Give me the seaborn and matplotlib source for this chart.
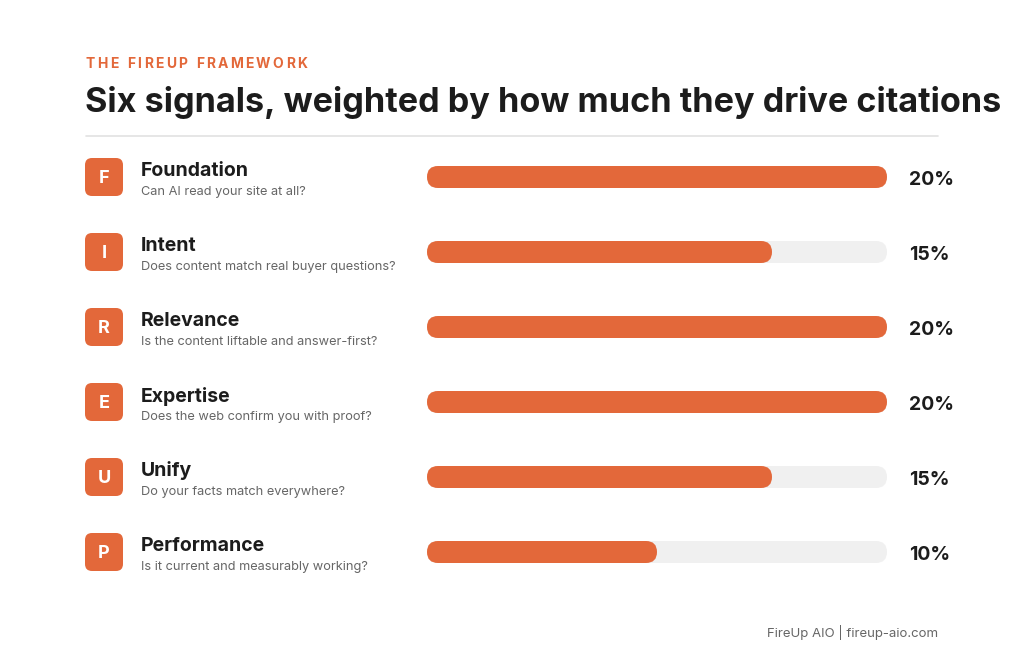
import matplotlib
matplotlib.use("Agg")
import matplotlib.pyplot as plt
from matplotlib.patches import FancyBboxPatch
from matplotlib.lines import Line2D
import seaborn as sns
import pandas as pd

# ---- data ----
categories = ["Foundation", "Intent", "Relevance", "Expertise", "Unify", "Performance"]
descriptions = [
    "Can AI read your site at all?",
    "Does content match real buyer questions?",
    "Is the content liftable and answer-first?",
    "Does the web confirm you with proof?",
    "Do your facts match everywhere?",
    "Is it current and measurably working?",
]
weights = [20, 15, 20, 20, 15, 10]
scale_max = 20
eyebrow = "THE FIREUP FRAMEWORK"
title = "Six signals, weighted by how much they drive citations"
footer = "FireUp AIO | fireup-aio.com"

ORANGE = "#E3683A"
TRACK = "#F0F0F0"
DARK = "#1C1C1C"
GREY = "#666666"
FONT = "Inter"

sns.set_theme(style="white")
plt.rcParams["font.family"] = [FONT, "DejaVu Sans"]

W, H = 1024, 666
fig = plt.figure(figsize=(W / 100, H / 100), dpi=100)
fig.patch.set_facecolor("white")

def fx(px):
    return px / W

def fy(py):
    return 1 - py / H

# ---- bars axis ----
row_h = 75.0
first_row_center = 177.0
n = len(categories)
ax_top = first_row_center - row_h / 2
ax_h = row_h * n
ax_left, ax_w = 427.0, 460.0
ax = fig.add_axes([fx(ax_left), fy(ax_top + ax_h), ax_w / W, ax_h / H])

df = pd.DataFrame({"signal": categories, "weight": weights, "track": [scale_max] * n})
bar_w = 22 / row_h
sns.barplot(data=df, x="track", y="signal", color=TRACK, width=bar_w, ax=ax,
            orient="h", saturation=1)
sns.barplot(data=df, x="weight", y="signal", color=ORANGE, width=bar_w, ax=ax,
            orient="h", saturation=1)
ax.set_xlim(0, scale_max)
ax.set_ylim(n - 0.5, -0.5)
ax.axis("off")

# round bar ends
xpp = scale_max / ax_w
ypp = 1 / row_h
aspect = ypp / xpp
r = 11 * xpp
for p in list(ax.patches):
    x0, y0 = p.get_x(), p.get_y()
    w, h = p.get_width(), p.get_height()
    fc = p.get_facecolor()
    p.remove()
    ax.add_patch(FancyBboxPatch((x0, y0), w, h,
                                boxstyle=f"round,pad=0,rounding_size={r}",
                                mutation_aspect=aspect, facecolor=fc,
                                edgecolor="none", linewidth=0))

# ---- overlay axis in pixel coords for texts/badges ----
ov = fig.add_axes([0, 0, 1, 1], zorder=-1)
ov.set_xlim(0, W)
ov.set_ylim(H, 0)
ov.axis("off")

for i, (cat, desc, wt) in enumerate(zip(categories, descriptions, weights)):
    yc = first_row_center + i * row_h
    ov.add_patch(FancyBboxPatch((85, yc - 19), 38, 38,
                                boxstyle="round,pad=0,rounding_size=7",
                                facecolor=ORANGE, edgecolor="none"))
    ov.text(104, yc + 1.8, cat[0], ha="center", va="center", color="white",
            fontsize=13, fontweight="bold")
    ov.text(141, yc - 6, cat, ha="left", va="center", color=DARK,
            fontsize=14, fontweight="bold")
    ov.text(141, yc + 15, desc, ha="left", va="center", color=GREY, fontsize=9.2)
    ov.text(909, yc + 3, f"{wt}%", ha="left", va="center", color=DARK,
            fontsize=14, fontweight="bold")

# eyebrow with letter spacing
renderer = fig.canvas.get_renderer()
xcur = 86
for ch in eyebrow:
    t = ov.text(xcur, 64.5, ch, ha="left", va="center", color=ORANGE,
                fontsize=10, fontweight="bold")
    bb = t.get_window_extent(renderer=renderer)
    adv = bb.width if ch != " " else 4.0
    xcur += adv + 2.3

ov.text(85, 102.5, title, ha="left", va="center", color=DARK, fontsize=24.6,
        fontweight="bold")
ov.add_line(Line2D([86, 938], [136, 136], color="#E2E2E2", linewidth=1.2))
ov.text(938, 633, footer, ha="right", va="center", color=GREY, fontsize=9.5)

fig.savefig("out.png", dpi=100, facecolor="white")
